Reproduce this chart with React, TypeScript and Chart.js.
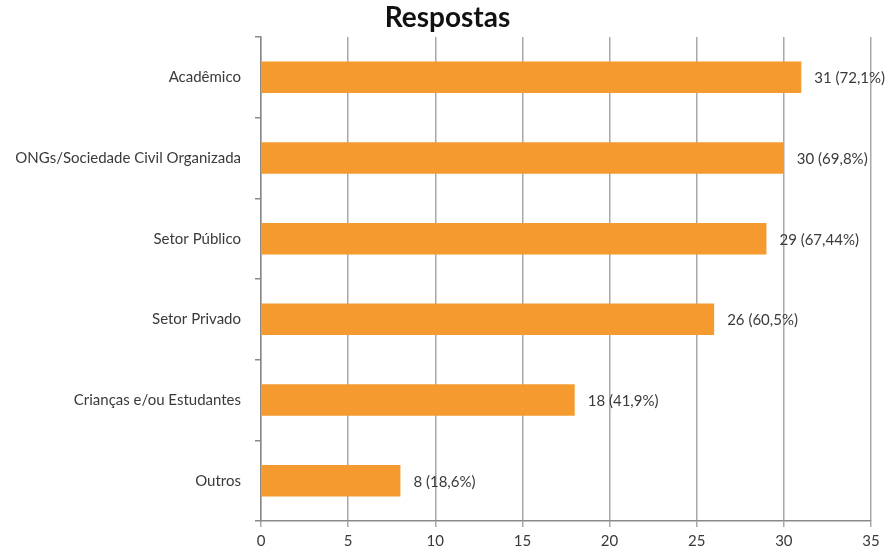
import React, { useEffect, useRef } from "react";
import { Chart, registerables } from "chart.js";

Chart.register(...registerables);

const chartTitle = "Respostas";
const categories = [
  "Acadêmico",
  "ONGs/Sociedade Civil Organizada",
  "Setor Público",
  "Setor Privado",
  "Crianças e/ou Estudantes",
  "Outros",
];
const responses = [31, 30, 29, 26, 18, 8];
const percentLabels = ["72,1%", "69,8%", "67,44%", "60,5%", "41,9%", "18,6%"];

const FONT = "Lato, 'Noto Sans', sans-serif";

// Writes "n (p%)" just past the end of each bar
const valueLabels = {
  id: "valueLabels",
  afterDatasetsDraw(chart: any) {
    const ctx = chart.ctx;
    const meta = chart.getDatasetMeta(0);
    ctx.save();
    ctx.font = `15px ${FONT}`;
    ctx.fillStyle = "#3a3a3a";
    ctx.textAlign = "left";
    ctx.textBaseline = "middle";
    meta.data.forEach((bar: any, i: number) => {
      const text = `${responses[i]} (${percentLabels[i]})`;
      ctx.fillText(text, bar.x + 13, bar.y + 1);
    });
    ctx.restore();
  },
};

// Centred heading across the whole canvas, in the space left above the plot
const headline = {
  id: "headline",
  afterDraw(chart: any) {
    const ctx = chart.ctx;
    ctx.save();
    ctx.font = `bold 28px ${FONT}`;
    ctx.fillStyle = "#111";
    ctx.textAlign = "center";
    ctx.textBaseline = "middle";
    ctx.fillText(chartTitle, chart.width / 2 + 3, 18);
    ctx.restore();
  },
};

export default function App() {
  const canvasRef = useRef<HTMLCanvasElement | null>(null);

  useEffect(() => {
    if (!canvasRef.current) return;
    const chart = new Chart(canvasRef.current, {
      type: "bar",
      data: {
        labels: categories,
        datasets: [
          {
            label: chartTitle,
            data: responses,
            backgroundColor: "#F49A2F",
            borderWidth: 0,
            categoryPercentage: 0.39,
            barPercentage: 1,
          },
        ],
      },
      options: {
        indexAxis: "y",
        animation: false,
        responsive: false,
        layout: { padding: { left: 0, right: 18, top: 37, bottom: 0 } },
        plugins: {
          legend: { display: false },
          tooltip: { enabled: false },
          title: { display: false },
        },
        scales: {
          x: {
            min: 0,
            max: 35,
            ticks: {
              stepSize: 5,
              color: "#3a3a3a",
              font: { family: FONT, size: 15 },
              padding: 5,
            },
            grid: {
              color: "#a8a8a8",
              lineWidth: 1.5,
              drawTicks: true,
              tickLength: 6,
            },
            border: { color: "#8a8a8a", width: 1.5 },
            afterFit(scale: any) {
              scale.height = 32;
            },
          },
          y: {
            ticks: {
              color: "#3a3a3a",
              font: { family: FONT, size: 15 },
              padding: 14,
            },
            grid: {
              drawOnChartArea: false,
              drawTicks: true,
              tickLength: 6,
              color: "#8a8a8a",
              lineWidth: 1.5,
            },
            border: { color: "#8a8a8a", width: 1.5 },
            afterFit(scale: any) {
              scale.width = 261;
            },
          },
        },
      },
      plugins: [valueLabels, headline],
    });
    return () => chart.destroy();
  }, []);

  return (
    <div style={{ position: "fixed", left: 0, top: 0, width: 889, height: 553, background: "#fff" }}>
      <canvas ref={canvasRef} width={889} height={553} />
    </div>
  );
}
